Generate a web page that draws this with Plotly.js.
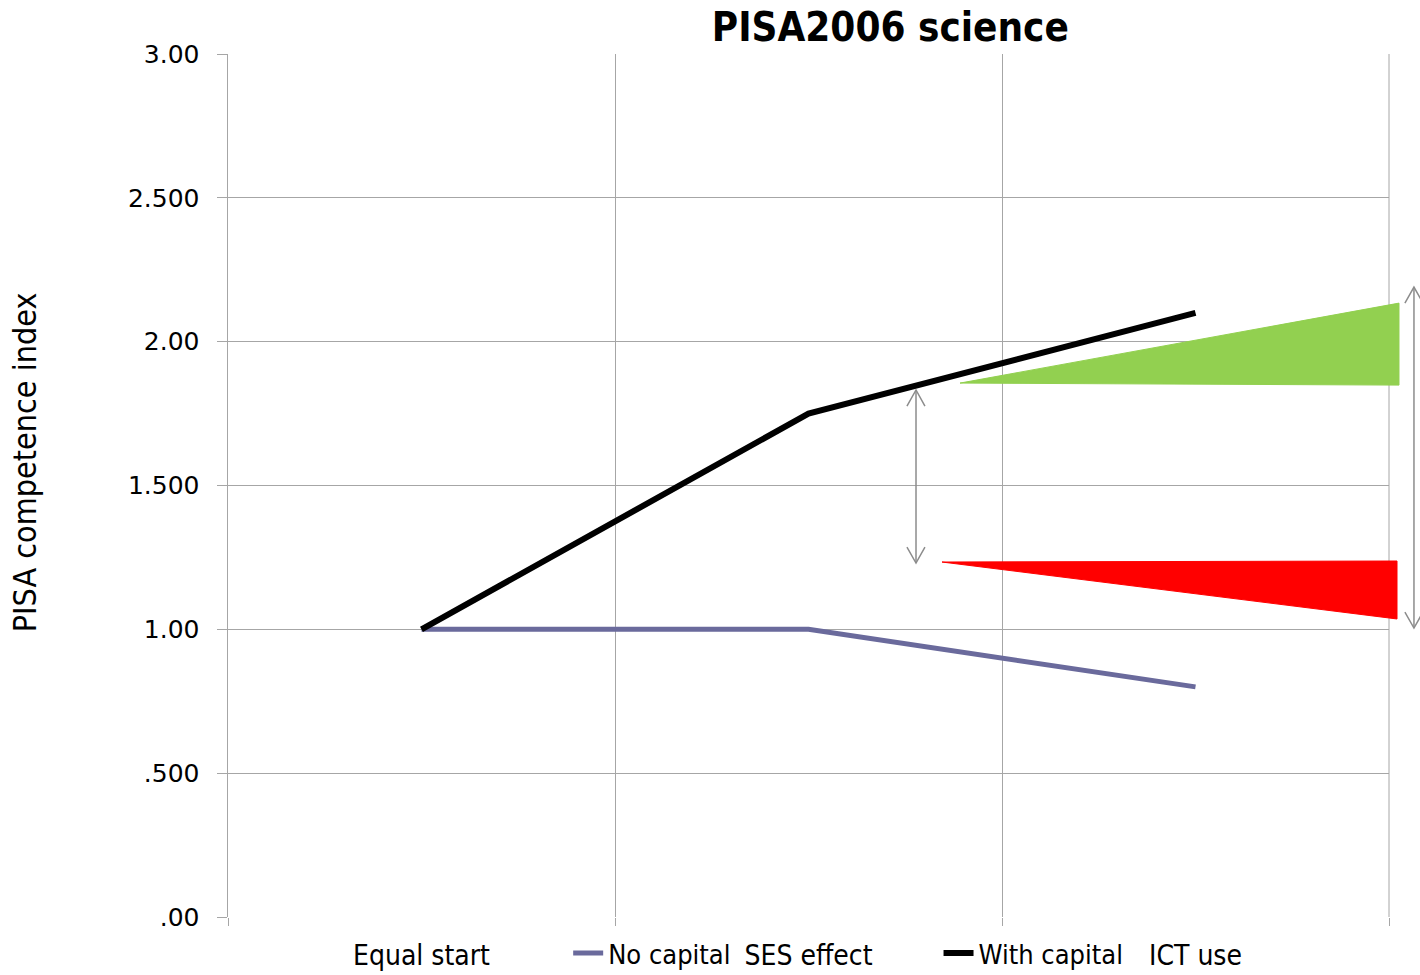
<!DOCTYPE html>
<html>
<head>
<meta charset="utf-8">
<script src="https://cdn.plot.ly/plotly-3.0.1.min.js"></script>
<style>html,body{margin:0;padding:0;background:#fff;}#chart{width:1420px;height:975px;}</style>
</head>
<body>
<div id="chart"></div>
<script>
var categories = ["Equal start", "SES effect", "ICT use"];
var noCapital = [1.00, 1.00, 0.80];
var withCapital = [1.00, 1.75, 2.10];
var seriesNames = ["No capital", "With capital"];
var yTickVals = [0, 0.5, 1, 1.5, 2, 2.5, 3];
var yTickText = [".00", ".500", "1.00", "1.500", "2.00", "2.500", "3.00"];
var yTitle = "PISA competence index";

var labelFont = "DejaVu Sans Condensed, Liberation Sans Narrow, sans-serif";
var tickFont = "DejaVu Sans, Verdana, sans-serif";
var grid = "#a6a6a6";
var arrowCol = "#8c8c8c";

var traces = [
  {x: categories, y: noCapital, name: seriesNames[0], type: "scatter", mode: "lines",
   line: {color: "#6a6a9c", width: 5}, legend: "legend"},
  {x: categories, y: withCapital, name: seriesNames[1], type: "scatter", mode: "lines",
   line: {color: "#000000", width: 6}, legend: "legend2"}
];

var shapes = [
  // green wedge
  {type: "path", xref: "paper", yref: "y", path: "M0.6305,1.856 L1.0086,2.134 L1.0086,1.849 Z",
   fillcolor: "#92d050", line: {color: "#92d050", width: 1}},
  // red wedge
  {type: "path", xref: "paper", yref: "y", path: "M0.615,1.234 L1.0069,1.2375 L1.0069,1.036 Z",
   fillcolor: "#ff0000", line: {color: "#ff0000", width: 1}},
  // arrow 1
  {type: "line", xref: "paper", yref: "y", x0: 0.5926, x1: 0.5926, y0: 1.832, y1: 1.2306,
   line: {color: arrowCol, width: 1.5}},
  {type: "path", xref: "paper", yref: "y", path: "M0.5848,1.776 L0.5926,1.832 L0.6003,1.776",
   line: {color: arrowCol, width: 1.5}},
  {type: "path", xref: "paper", yref: "y", path: "M0.5848,1.286 L0.5926,1.2306 L0.6003,1.286",
   line: {color: arrowCol, width: 1.5}},
  // arrow 2
  {type: "line", xref: "paper", yref: "y", x0: 1.0215, x1: 1.0215, y0: 2.19, y1: 1.0046,
   line: {color: arrowCol, width: 1.5}},
  {type: "path", xref: "paper", yref: "y", path: "M1.0137,2.134 L1.0215,2.19 L1.0293,2.134",
   line: {color: arrowCol, width: 1.5}},
  {type: "path", xref: "paper", yref: "y", path: "M1.0137,1.060 L1.0215,1.0046 L1.0293,1.060",
   line: {color: arrowCol, width: 1.5}},
  // right border gridline
  {type: "line", xref: "paper", yref: "paper", x0: 1, x1: 1, y0: 0, y1: 1,
   line: {color: grid, width: 1}, layer: "below"}
];

var legendCommon = {orientation: "h", yanchor: "bottom", y: -0.0707, xanchor: "left",
  bgcolor: "rgba(0,0,0,0)", font: {family: labelFont, size: 27, color: "#000"}};

var layout = {
  width: 1420, height: 975,
  margin: {l: 228, r: 31, t: 54, b: 58, autoexpand: false},
  paper_bgcolor: "#ffffff", plot_bgcolor: "#ffffff",
  showlegend: true,
  title: {text: "<b>PISA2006 science</b>", x: 0.627, xref: "container", xanchor: "center",
          y: 0.972, yref: "container", yanchor: "middle",
          font: {family: labelFont, size: 40, color: "#000"}},
  xaxis: {type: "category", range: [-0.5, 2.5], tickson: "boundaries", automargin: false,
          showgrid: true, gridcolor: grid, gridwidth: 1,
          ticks: "outside", ticklen: 8, tickcolor: grid,
          showline: false, zeroline: false, ticklabelstandoff: 19,
          tickfont: {family: labelFont, size: 28, color: "#000"}},
  yaxis: {range: [0, 3], tickvals: yTickVals, ticktext: yTickText, automargin: false,
          showgrid: true, gridcolor: grid, gridwidth: 1,
          ticks: "outside", ticklen: 10, tickcolor: grid, ticklabelstandoff: 12,
          showline: true, linecolor: grid, linewidth: 1.5, zeroline: false,
          tickfont: {family: tickFont, size: 25, color: "#000"}},
  annotations: [
    {text: yTitle, xref: "paper", yref: "paper", x: -0.1748, y: 0.527,
     xanchor: "center", yanchor: "middle", textangle: -90, showarrow: false,
     font: {family: labelFont, size: 32, color: "#000"}}
  ],
  legend: Object.assign({}, legendCommon, {x: 0.293}),
  legend2: Object.assign({}, legendCommon, {x: 0.612}),
  shapes: shapes
};

Plotly.newPlot("chart", traces, layout, {displayModeBar: false, staticPlot: true});
</script>
</body>
</html>
